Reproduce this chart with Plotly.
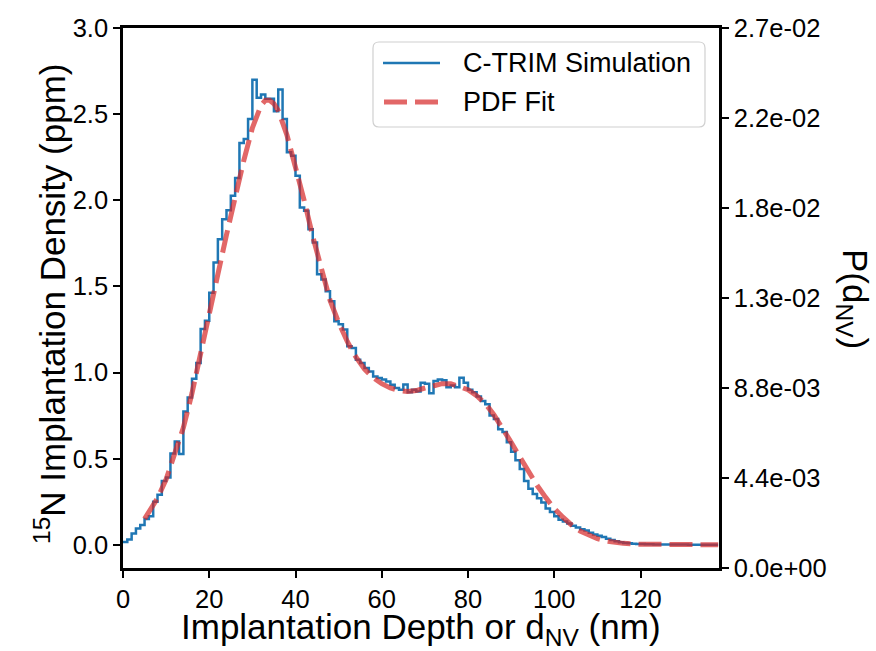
import plotly.graph_objects as go

# ---- data ----
# C-TRIM simulation histogram: 1 nm bins, left edges 0..137 nm
bin_left_nm = list(range(0, 138))
density_ppm = [
    0.016, 0.03, 0.065, 0.094, 0.115, 0.15, 0.165, 0.25, 0.29, 0.37,
    0.39, 0.53, 0.60, 0.527, 0.773, 0.855, 0.964, 1.055, 1.253, 1.30,
    1.463, 1.638, 1.773, 1.89, 1.942, 2.026, 2.129, 2.333, 2.356, 2.472,
    2.70, 2.595, 2.614, 2.589, 2.589, 2.517, 2.643, 2.472, 2.278, 2.259,
    2.142, 1.958, 1.939, 1.832, 1.754, 1.570, 1.540, 1.472, 1.414, 1.298,
    1.28, 1.249, 1.152, 1.142, 1.074, 1.055, 1.026, 1.006, 0.977, 0.968,
    0.96, 0.948, 0.929, 0.91, 0.90, 0.93, 0.885, 0.90, 0.89, 0.94,
    0.935, 0.88, 0.95, 0.96, 0.955, 0.915, 0.925, 0.915, 0.97, 0.94,
    0.90, 0.885, 0.86, 0.835, 0.815, 0.75, 0.73, 0.67, 0.655, 0.595,
    0.54, 0.49, 0.44, 0.37, 0.325, 0.295, 0.27, 0.245, 0.21, 0.19,
    0.165, 0.145, 0.135, 0.123, 0.11, 0.10, 0.09, 0.082, 0.07, 0.06,
    0.052, 0.045, 0.035, 0.028, 0.02, 0.015, 0.01, 0.008, 0.006, 0.005,
    0.004, 0.003, 0.003, 0.002, 0.002, 0.002, 0.001, 0.001, 0.001, 0.001,
    0.001, 0.0, 0.0, 0.0, 0.0, 0.0, 0.0, 0.0,
]
hist_end_nm = 138

# PDF fit (smooth curve)
fit_depth_nm = [5, 8, 10, 12, 14, 16, 18, 20, 22, 24, 26, 28, 30, 32, 33, 34, 35, 36,
                38, 40, 42, 44, 46, 48, 50, 52, 54, 56, 58, 60, 62, 64, 66, 68, 70,
                72, 74, 76, 78, 80, 82, 84, 86, 88, 90, 92, 94, 96, 98, 100, 102,
                104, 106, 108, 110, 112, 114, 116, 120, 125, 130, 138]
fit_density_ppm = [0.15, 0.27, 0.38, 0.52, 0.68, 0.88, 1.10, 1.33, 1.57, 1.80, 2.02,
                   2.23, 2.42, 2.55, 2.58, 2.58, 2.56, 2.52, 2.38, 2.20, 2.00, 1.79,
                   1.59, 1.42, 1.29, 1.18, 1.09, 1.02, 0.97, 0.935, 0.91, 0.895, 0.89,
                   0.895, 0.91, 0.925, 0.935, 0.935, 0.92, 0.90, 0.865, 0.82, 0.755,
                   0.68, 0.595, 0.51, 0.425, 0.345, 0.275, 0.21, 0.16, 0.115, 0.08,
                   0.055, 0.035, 0.022, 0.013, 0.008, 0.003, 0.001, 0.0, 0.0]

x_ticks = [0, 20, 40, 60, 80, 100, 120]
y_ticks = [0.0, 0.5, 1.0, 1.5, 2.0, 2.5, 3.0]
y_tick_labels = ["0.0", "0.5", "1.0", "1.5", "2.0", "2.5", "3.0"]
p_ticks = [0.0, 0.004417, 0.008833, 0.01325, 0.017667, 0.022083, 0.0265]
p_tick_labels = ["0.0e+00", "4.4e-03", "8.8e-03", "1.3e-02", "1.8e-02", "2.2e-02", "2.7e-02"]
legend_labels = ["C-TRIM Simulation", "PDF Fit"]

FONT = "Liberation Sans, Arial, sans-serif"
TICK = 25.5
TITLE = 35
LEG = 27
BLUE = "#1f77b4"
RED = "#d62728"

W, H = 876, 651
ML, MR, MT, MB = 123, 157, 28, 83
PW, PH = W - ML - MR, H - MT - MB


def px(xp):
    return (xp - ML) / PW


def py(yp):
    return (H - MB - yp) / PH


hist_x = bin_left_nm + [hist_end_nm]
hist_y = density_ppm + [density_ppm[-1]]

fig = go.Figure()
fig.add_trace(go.Scatter(
    x=hist_x, y=hist_y, mode="lines", line_shape="hv",
    line=dict(color=BLUE, width=2.5), name=legend_labels[0], showlegend=False,
))
fig.add_trace(go.Scatter(
    x=fit_depth_nm, y=fit_density_ppm, mode="lines",
    line=dict(color=RED, width=5, dash="23px,8px"), opacity=0.7,
    name=legend_labels[1], showlegend=False,
))
# invisible trace to carry the right-hand axis
fig.add_trace(go.Scatter(
    x=[0, hist_end_nm], y=[0, 0], yaxis="y2", mode="lines",
    line=dict(width=0, color="rgba(0,0,0,0)"), showlegend=False, hoverinfo="skip",
))

axis_common = dict(
    showline=True, linecolor="black", linewidth=2.5,
    ticks="outside", ticklen=7, tickwidth=2, tickcolor="black",
    showgrid=False, zeroline=False,
    tickfont=dict(family=FONT, size=TICK, color="black"),
)

# legend box (rounded) drawn in paper coordinates
lx0, lx1, ly0, ly1, r = px(373), px(705), py(42), py(127), 6
rx, ry = r / PW, r / PH
box_path = (f"M{lx0+rx},{ly0} L{lx1-rx},{ly0} Q{lx1},{ly0} {lx1},{ly0-ry} "
            f"L{lx1},{ly1+ry} Q{lx1},{ly1} {lx1-rx},{ly1} L{lx0+rx},{ly1} "
            f"Q{lx0},{ly1} {lx0},{ly1+ry} L{lx0},{ly0-ry} Q{lx0},{ly0} {lx0+rx},{ly0} Z")

shapes = [
    dict(type="path", path=box_path, xref="paper", yref="paper",
         line=dict(color="#d0d0d0", width=1.2), fillcolor="rgba(255,255,255,0.8)", layer="above"),
    dict(type="line", xref="paper", yref="paper", x0=px(383), x1=px(440), y0=py(63), y1=py(63),
         line=dict(color=BLUE, width=2.5), layer="above"),
    dict(type="line", xref="paper", yref="paper", x0=px(384), x1=px(438), y0=py(102), y1=py(102),
         line=dict(color=RED, width=5, dash="23px,8px"), opacity=0.7, layer="above"),
]

fig.update_layout(
    width=W, height=H,
    margin=dict(l=ML, r=MR, t=MT, b=MB, pad=0),
    paper_bgcolor="white", plot_bgcolor="white",
    font=dict(family=FONT, color="black"),
    xaxis=dict(range=[0, 138.2], tickvals=x_ticks, mirror=True, **axis_common),
    yaxis=dict(range=[-0.135, 3.0], tickvals=y_ticks, ticktext=y_tick_labels, **axis_common),
    yaxis2=dict(range=[0, 0.0265], tickvals=p_ticks, ticktext=p_tick_labels,
                overlaying="y", side="right", **axis_common),
    showlegend=False,
    shapes=shapes,
    annotations=[
        dict(text=legend_labels[0], xref="paper", yref="paper", x=px(461), y=py(63),
             xanchor="left", yanchor="middle", showarrow=False,
             font=dict(family=FONT, size=LEG, color="black")),
        dict(text=legend_labels[1], xref="paper", yref="paper", x=px(461), y=py(102),
             xanchor="left", yanchor="middle", showarrow=False,
             font=dict(family=FONT, size=LEG, color="black")),
        dict(text="Implantation Depth or d<sub>NV</sub> (nm)", xref="paper", yref="paper",
             x=0.5, y=py(629), xanchor="center", yanchor="middle", showarrow=False,
             font=dict(family=FONT, size=TITLE, color="black")),
        dict(text="<sup>15</sup>N Implantation Density (ppm)", xref="paper", yref="paper",
             x=px(50), y=py(304), xanchor="center", yanchor="middle", showarrow=False,
             textangle=-90, font=dict(family=FONT, size=TITLE, color="black")),
        dict(text="P(d<sub>NV</sub>)", xref="paper", yref="paper",
             x=px(853), y=py(299), xanchor="center", yanchor="middle", showarrow=False,
             textangle=90, font=dict(family=FONT, size=TITLE, color="black")),
    ],
)

fig.write_html("out.html")
